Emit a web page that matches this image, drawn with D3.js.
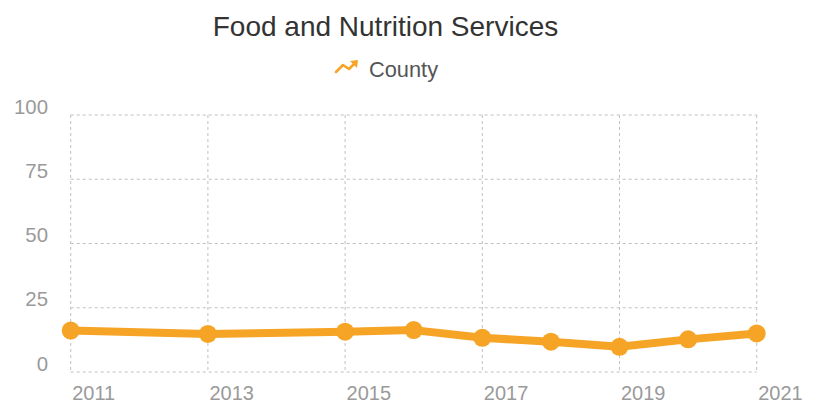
<!DOCTYPE html>
<html><head><meta charset="utf-8">
<script src="https://cdn.jsdelivr.net/npm/d3@7"></script>
<style>body{margin:0;background:#fff;}svg{display:block;font-family:"Liberation Sans",Arial,sans-serif;}</style>
</head><body>
<svg id="chart" width="822" height="408"></svg>
<script>
const years = [2011, 2013, 2015, 2016, 2017, 2018, 2019, 2020, 2021];
const county = [16.1, 14.8, 15.7, 16.3, 13.3, 11.8, 9.8, 12.7, 15.0];
const yTicks = [0, 25, 50, 75, 100];
const xTicks = [2011, 2013, 2015, 2017, 2019, 2021];
const title = "Food and Nutrition Services";
const seriesName = "County";
const color = "#f6a425";

const svg = d3.select("#chart");
const x = d3.scaleLinear().domain([2011, 2021]).range([70.7, 756.7]);
const y = d3.scaleLinear().domain([0, 100]).range([372, 115]);

svg.append("text").attr("x", 385.5).attr("y", 36).attr("text-anchor", "middle")
  .attr("font-size", 28).attr("fill", "#333").text(title);

// legend
const lg = svg.append("g").attr("transform", "translate(334,61)");
lg.append("path").attr("d", "M2,11 L9,4 L15,8 L22,1").attr("fill", "none")
  .attr("stroke", color).attr("stroke-width", 2.6).attr("stroke-linejoin", "round").attr("stroke-linecap", "round");
lg.append("path").attr("d", "M16,0 L24,-1 L23,7 Z").attr("fill", color);
svg.append("text").attr("x", 369).attr("y", 76.5).attr("font-size", 21.8).attr("fill", "#555").text(seriesName);

// grid
const grid = svg.append("g").attr("stroke", "#c0c0c0").attr("stroke-width", 1).attr("stroke-dasharray", "3,3");
grid.selectAll("line.h").data(yTicks).join("line").attr("class", "h")
  .attr("x1", x(2011)).attr("x2", x(2021)).attr("y1", d => y(d)).attr("y2", d => y(d));
grid.selectAll("line.v").data(xTicks).join("line").attr("class", "v")
  .attr("x1", d => x(d)).attr("x2", d => x(d)).attr("y1", y(100)).attr("y2", y(0));

// y axis labels
const yAxis = d3.axisLeft(y).tickValues(yTicks).tickSize(0).tickPadding(0);
const yg = svg.append("g").attr("transform", "translate(48,0)").call(yAxis);
yg.select(".domain").remove();
yg.selectAll("text").attr("font-size", 20.4).attr("fill", "#9a9a9a").attr("dy", null).attr("y", -2)
  .attr("font-family", "Liberation Sans, Arial, sans-serif");

// x axis labels
const xAxis = d3.axisBottom(x).tickValues(xTicks).tickFormat(d3.format("d")).tickSize(0).tickPadding(0);
const xg = svg.append("g").attr("transform", "translate(1,0)").call(xAxis);
xg.select(".domain").remove();
xg.selectAll("text").attr("font-size", 20).attr("fill", "#9a9a9a").attr("text-anchor", "start")
  .attr("dy", null).attr("y", 400).attr("font-family", "Liberation Sans, Arial, sans-serif");

// line
const data = years.map((yr, i) => ({yr, v: county[i]}));
svg.append("path").datum(data).attr("fill", "none").attr("stroke", color).attr("stroke-width", 8)
  .attr("stroke-linejoin", "round").attr("stroke-linecap", "round")
  .attr("d", d3.line().x(d => x(d.yr)).y(d => y(d.v)));
svg.selectAll("circle.pt").data(data).join("circle").attr("class", "pt")
  .attr("cx", d => x(d.yr)).attr("cy", d => y(d.v)).attr("r", 9).attr("fill", color);
</script>
</body></html>
